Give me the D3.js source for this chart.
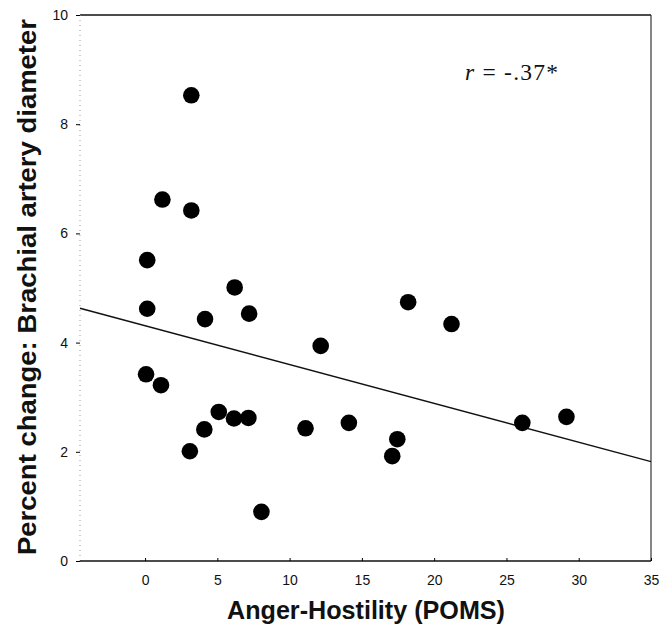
<!DOCTYPE html>
<html><head><meta charset="utf-8">
<script src="https://cdn.jsdelivr.net/npm/d3@7"></script>
<style>body{margin:0;background:#fff}svg{display:block}</style>
</head><body>
<script>
const angerHostility = [0.15,0.15,0.07,1.2,1.1,3.2,3.2,3.1,4.15,4.1,5.1,6.2,6.15,7.2,7.15,8.05,11.1,12.15,14.1,17.1,17.45,18.2,21.2,26.1,29.15];
const percentChange  = [5.51,4.62,3.42,6.62,3.22,8.53,6.42,2.01,4.43,2.41,2.73,5.01,2.61,4.53,2.62,0.90,2.43,3.94,2.53,1.92,2.23,4.74,4.34,2.53,2.64];
const xTicks = [0,5,10,15,20,25,30,35];
const yTicks = [0,2,4,6,8,10];
const fitLine = [[-4.5,4.63],[35,1.82]];
const annotation = "= -.37*";

const W=662,H=635;
const svg=d3.select("body").append("svg").attr("width",W).attr("height",H);
const x=d3.scaleLinear().domain([-4.5,35]).range([80,651]);
const y=d3.scaleLinear().domain([0,10]).range([561,15]);
const sans="Arial, Liberation Sans, sans-serif";

// frame
svg.append("line").attr("x1",80).attr("x2",651).attr("y1",y(10)).attr("y2",y(10)).attr("stroke","#111").attr("stroke-width",1.3);
svg.append("line").attr("x1",651).attr("x2",651).attr("y1",y(10)).attr("y2",y(0)).attr("stroke","#222").attr("stroke-width",1.1);
svg.append("line").attr("x1",80).attr("x2",80).attr("y1",y(10)).attr("y2",y(0)).attr("stroke","#999").attr("stroke-width",1).attr("stroke-dasharray","1,4");

const xAxis=svg.append("g").attr("transform",`translate(0,${y(0)})`)
  .call(d3.axisBottom(x).tickValues(xTicks).tickSize(-3).tickPadding(14).tickFormat(d3.format("d")));
xAxis.select(".domain").attr("stroke","#111").attr("stroke-width",1.3).attr("d",`M80,0H651`);
xAxis.selectAll("text").attr("font-family",sans).attr("font-size",14).attr("fill","#111");

const yAxis=svg.append("g").attr("transform",`translate(80,0)`)
  .call(d3.axisLeft(y).tickValues(yTicks).tickSize(4).tickPadding(8).tickFormat(d3.format("d")));
yAxis.select(".domain").remove();
yAxis.selectAll("text").attr("font-family",sans).attr("font-size",14).attr("fill","#111");

// regression line
svg.append("line").attr("x1",x(fitLine[0][0])).attr("y1",y(fitLine[0][1]))
  .attr("x2",x(fitLine[1][0])).attr("y2",y(fitLine[1][1]))
  .attr("stroke","#111").attr("stroke-width",1.4);

// points
svg.append("g").selectAll("circle").data(angerHostility.map((v,i)=>[v,percentChange[i]]))
  .join("circle").attr("cx",d=>x(d[0])).attr("cy",d=>y(d[1])).attr("r",8.3).attr("fill","#000");

// titles
svg.append("text").attr("x",366).attr("y",619).attr("text-anchor","middle")
  .attr("font-family",sans).attr("font-weight","bold").attr("font-size",25).attr("fill","#111")
  .attr("textLength",278).attr("lengthAdjust","spacingAndGlyphs")
  .text("Anger-Hostility (POMS)");
svg.append("text").attr("transform","translate(36,287) rotate(-90)").attr("text-anchor","middle")
  .attr("font-family",sans).attr("font-weight","bold").attr("font-size",26).attr("fill","#111")
  .attr("textLength",536).attr("lengthAdjust","spacingAndGlyphs")
  .text("Percent change: Brachial artery diameter");

const t=svg.append("text").attr("x",465).attr("y",80)
  .attr("font-family","Liberation Serif, Times New Roman, serif").attr("font-size",23.5).attr("fill","#111")
  .attr("textLength",93).attr("lengthAdjust","spacing");
t.append("tspan").attr("font-style","italic").text("r");
t.append("tspan").text(" "+annotation);
</script>
</body></html>
